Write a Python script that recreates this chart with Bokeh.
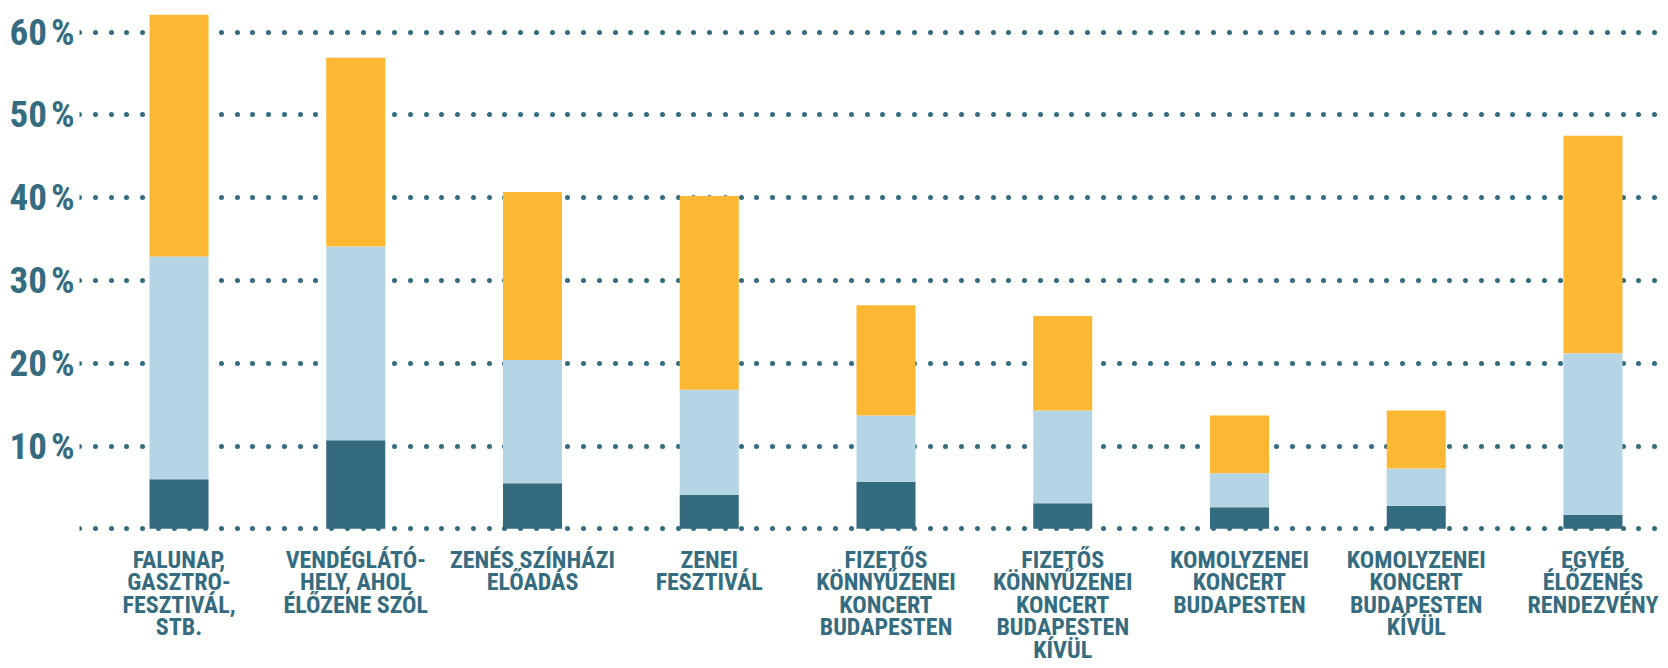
from bokeh.plotting import figure
from bokeh.models import Range1d, FixedTicker, ColumnDataSource
from bokeh.core.properties import value
from bokeh.embed import file_html
from bokeh.resources import INLINE

categories = [
    "FALUNAP,\nGASZTRO-\nFESZTIVÁL,\nSTB.",
    "VENDÉGLÁTÓ-\nHELY, AHOL\nÉLŐZENE SZÓL",
    "ZENÉS SZÍNHÁZI\nELŐADÁS",
    "ZENEI\nFESZTIVÁL",
    "FIZETŐS\nKÖNNYŰZENEI\nKONCERT\nBUDAPESTEN",
    "FIZETŐS\nKÖNNYŰZENEI\nKONCERT\nBUDAPESTEN\nKÍVÜL",
    "KOMOLYZENEI\nKONCERT\nBUDAPESTEN",
    "KOMOLYZENEI\nKONCERT\nBUDAPESTEN\nKÍVÜL",
    "EGYÉB\nÉLŐZENÉS\nRENDEZVÉNY",
]
dark = [6.0, 10.7, 5.5, 4.1, 5.7, 3.1, 2.6, 2.8, 1.7]
light = [26.9, 23.4, 14.9, 12.7, 8.0, 11.2, 4.1, 4.5, 19.5]
orange = [29.2, 22.8, 20.3, 23.4, 13.3, 11.4, 7.0, 7.0, 26.3]
y_ticks = [10, 20, 30, 40, 50, 60]
grid_ticks = [0, 10, 20, 30, 40, 50, 60]
y_tick_labels = ["10\u200a%", "20\u200a%", "30\u200a%", "40\u200a%", "50\u200a%", "60\u200a%"]

C_DARK = "#346B7F"
C_LIGHT = "#B5D5E5"
C_ORANGE = "#FCB833"
C_TEXT = "#356C80"
FONT = "Roboto Condensed"

idx = list(range(len(categories)))
src = ColumnDataSource(dict(x=idx, cat=categories, dark=dark, light=light, orange=orange,
                            ly=[-2.05] * len(categories)))

p = figure(width=1660, height=660, output_backend="svg", toolbar_location=None,
           x_range=Range1d(-0.563, 8.382), y_range=Range1d(-15.91, 63.83),
           x_axis_location=None, min_border_left=79, min_border_right=0,
           min_border_top=0, min_border_bottom=0)
p.outline_line_color = None
p.background_fill_color = "white"
p.border_fill_color = "white"

p.xgrid.visible = False
g = p.ygrid[0]
g.ticker = FixedTicker(ticks=grid_ticks)
g.grid_line_color = C_DARK
g.grid_line_width = 5
g.grid_line_cap = "round"
g.grid_line_dash = "0 16 0 16 0 15 0 16"

ax = p.yaxis[0]
ax.ticker = FixedTicker(ticks=y_ticks)
ax.major_label_overrides = {t: l for t, l in zip(y_ticks, y_tick_labels)}
ax.axis_line_color = None
ax.major_tick_line_color = None
ax.minor_tick_line_color = None
ax.major_tick_in = 0
ax.major_tick_out = 0
ax.major_label_standoff = 5
ax.major_label_text_font = FONT
ax.major_label_text_font_style = "bold"
ax.major_label_text_font_size = "37px"
ax.major_label_text_color = C_TEXT

p.vbar_stack(["dark", "light", "orange"], x="x", width=0.334, source=src,
             color=[C_DARK, C_LIGHT, C_ORANGE], line_color=None)

p.text(x="x", y="ly", text="cat", source=src, text_align="center", text_baseline="top",
       text_font=value(FONT), text_font_style="bold", text_font_size="24px",
       text_line_height=0.806, text_color=C_TEXT)

open("out.html", "w").write(file_html(p, INLINE))
